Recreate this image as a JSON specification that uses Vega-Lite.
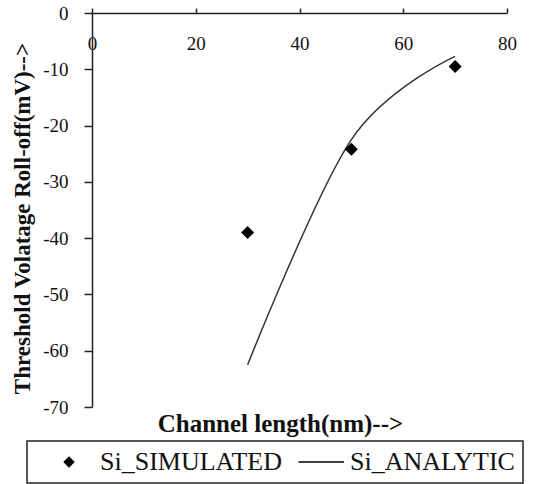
{
  "$schema": "https://vega.github.io/schema/vega-lite/v6.json",
  "width": 415,
  "height": 394,
  "autosize": {"type": "none"},
  "padding": {"left": 92, "top": 13, "right": 36, "bottom": 77},
  "background": "white",
  "datasets": {
    "sim": [
      {"L": 30, "V": -39, "series": "Si_SIMULATED"},
      {"L": 50, "V": -24.2, "series": "Si_SIMULATED"},
      {"L": 70, "V": -9.5, "series": "Si_SIMULATED"}
    ],
    "ana": [
      {"L": 30, "V": -62.5, "series": "Si_ANALYTIC"},
      {"L": 50, "V": -22.5, "series": "Si_ANALYTIC"},
      {"L": 70, "V": -7.7, "series": "Si_ANALYTIC"}
    ]
  },
  "encoding": {
    "x": {
      "field": "L", "type": "quantitative",
      "scale": {"domain": [0, 80], "nice": false, "zero": false},
      "axis": {
        "orient": "top", "values": [0, 20, 40, 60, 80], "grid": false,
        "domainColor": "#222", "domainWidth": 1.5, "tickColor": "#222", "tickWidth": 1.5, "tickSize": 5,
        "labelFlush": false, "labelOverlap": false, "labelBaseline": "middle", "labelPadding": -35,
        "labelFont": "Liberation Serif", "labelFontSize": 19, "labelColor": "#111",
        "title": "Channel length(nm)-->", "titleFont": "Liberation Serif", "titleFontSize": 25, "titleFontWeight": "bold",
        "titleColor": "#111", "titleX": 188, "titleY": 410, "titleBaseline": "middle", "titleAlign": "center"
      }
    },
    "y": {
      "field": "V", "type": "quantitative",
      "scale": {"domain": [-70, 0], "nice": false, "zero": false},
      "axis": {
        "values": [-70, -60, -50, -40, -30, -20, -10, 0], "grid": false,
        "domainColor": "#222", "domainWidth": 1.5, "tickColor": "#222", "tickWidth": 1.5, "tickSize": 8,
        "labelFlush": false, "labelOverlap": false, "labelPadding": 16,
        "labelExpr": "datum.value + ''",
        "labelFont": "Liberation Serif", "labelFontSize": 19, "labelColor": "#111",
        "title": "Threshold Volatage Roll-off(mV)-->", "titleFont": "Liberation Serif", "titleFontSize": 23, "titleFontWeight": "bold",
        "titleColor": "#111", "titleX": -70, "titleY": 205, "titleBaseline": "middle", "titleAlign": "center", "titleAngle": 270
      }
    }
  },
  "layer": [
    {
      "data": {"name": "ana"},
      "mark": {"type": "line", "interpolate": "cardinal", "color": "#333", "strokeWidth": 1.5}
    },
    {
      "data": {"name": "sim"},
      "mark": {"type": "point", "filled": true, "color": "black", "opacity": 1, "size": 170},
      "encoding": {
        "shape": {
          "field": "series", "type": "nominal",
          "scale": {"domain": ["Si_SIMULATED", "Si_ANALYTIC"], "range": ["M0,-1L1,0L0,1L-1,0Z", "M-3.6,-0.13H4.4V0.13H-3.6Z"]},
          "legend": {
            "title": null,
            "encode": {"symbols": {"update": {"fill": {"value": "black"}, "opacity": {"value": 1}}}}
          }
        }
      }
    }
  ],
  "config": {
    "view": {"stroke": null},
    "font": "Liberation Serif",
    "legend": {
      "orient": "none", "legendX": -65, "legendY": 428, "direction": "horizontal",
      "strokeColor": "#222", "strokeWidth": 1.5, "padding": 8,
      "labelFont": "Liberation Serif", "labelFontSize": 26, "labelColor": "#111", "labelLimit": 0,
      "symbolFillColor": "black", "symbolSize": 130,
      "symbolOffset": 21, "labelOffset": 18, "columnPadding": 2
    }
  }
}
